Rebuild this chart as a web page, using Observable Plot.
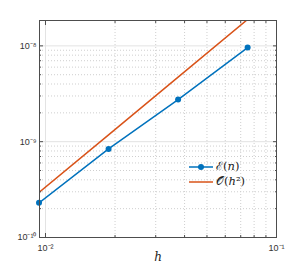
<!DOCTYPE html>
<html><head><meta charset="utf-8">
<script src="https://cdn.jsdelivr.net/npm/d3@7"></script>
<script src="https://cdn.jsdelivr.net/npm/@observablehq/plot@0.6"></script>
<style>
body{margin:0;background:#fff;}
#wrap{position:relative;width:305px;height:267px;}
#legend{position:absolute;left:188px;top:159px;font-family:"DejaVu Serif",serif;font-size:11.5px;color:#222;line-height:15px;}
#legend .row{display:flex;align-items:center;height:15px;}
#legend svg{margin-right:2px;}
</style>
</head><body>
<div id="wrap"><div id="chart"></div>
<div id="legend"></div></div>
<script>
const h = [0.009375, 0.01875, 0.0375, 0.075];
const errE = [2.3e-10, 8.4e-10, 2.75e-9, 9.6e-9];
const errO = [2.95e-10, 1.18e-9, 4.72e-9, 1.89e-8];
const seriesNames = ["ℰ(<i>n</i>)", "𝒪(<i>h</i>²)"];
const seriesColors = ["#0072BD", "#D95319"];
const xDomain = [0.00942, 0.1];
const yDomain = [1e-10, 1.84e-8];
const xMajor = [0.01, 0.1];
const xMinor = [0.02,0.03,0.04,0.05,0.06,0.07,0.08,0.09];
const yMajor = [1e-10, 1e-9, 1e-8];
const yMinor = [2e-10,3e-10,4e-10,5e-10,6e-10,7e-10,8e-10,9e-10,2e-9,3e-9,4e-9,5e-9,6e-9,7e-9,8e-9,9e-9];
const xLabels = ["10⁻²", "10⁻¹"];
const yLabels = ["10⁻¹⁰", "10⁻⁹", "10⁻⁸"];

const dataE = h.map((x,i)=>({x, y: errE[i]}));
const dataO = h.map((x,i)=>({x, y: errO[i]}));
const axisColor = "#4d4d4d";
const fmt = (arr, labels) => v => { const i = arr.findIndex(a => Math.abs(a - v)/a < 1e-6); return i >= 0 ? labels[i] : ""; };
const tk = (axis, ticks, anchor, size) => axis(ticks, {anchor, tickSize: size, text: null, label: null, stroke: axisColor});

const chart = Plot.plot({
  width: 305, height: 267,
  marginLeft: 39, marginRight: 29, marginTop: 20, marginBottom: 30,
  style: {fontFamily: "'Liberation Sans', Arial, sans-serif", fontSize: "9px", color: "#333", background: "#fff"},
  x: {type: "log", domain: xDomain},
  y: {type: "log", domain: yDomain},
  marks: [
    Plot.gridX(xMinor, {stroke: "#cfcfcf", strokeOpacity: 1, strokeDasharray: "1,2"}),
    Plot.gridY(yMinor, {stroke: "#cfcfcf", strokeOpacity: 1, strokeDasharray: "1,2"}),
    Plot.gridX(xMajor.filter(v => v < 0.1), {stroke: "#e3e3e3", strokeOpacity: 1}),
    Plot.gridY(yMajor.filter(v => v > 1e-10), {stroke: "#e3e3e3", strokeOpacity: 1}),
    Plot.line(dataO, {x: "x", y: "y", stroke: seriesColors[1], strokeWidth: 1.5, clip: true}),
    Plot.line(dataE, {x: "x", y: "y", stroke: seriesColors[0], strokeWidth: 1.5, clip: true}),
    Plot.dot(dataE, {x: "x", y: "y", fill: seriesColors[0], r: 3}),
    Plot.frame({stroke: axisColor, strokeWidth: 1}),
    tk(Plot.axisX, xMajor, "bottom", -4),
    tk(Plot.axisX, xMinor, "bottom", -2),
    tk(Plot.axisX, xMajor, "top", -4),
    tk(Plot.axisX, xMinor, "top", -2),
    tk(Plot.axisY, yMajor, "left", -4),
    tk(Plot.axisY, yMinor, "left", -2),
    tk(Plot.axisY, yMajor, "right", -4),
    tk(Plot.axisY, yMinor, "right", -2),
    Plot.axisX(xMajor, {anchor: "bottom", tickSize: 0, tickPadding: 7, tickFormat: fmt(xMajor, xLabels), label: null, fill: "#333"}),
    Plot.axisY(yMajor, {anchor: "left", tickSize: 0, tickPadding: 3, tickFormat: fmt(yMajor, yLabels), label: null, fill: "#333"}),
    Plot.text(["h"], {frameAnchor: "bottom", dy: 23, fontFamily: "'DejaVu Serif', serif", fontStyle: "italic", fontSize: 12, fill: "#222"})
  ]
});
document.getElementById("chart").appendChild(chart);

const legend = document.getElementById("legend");
seriesNames.forEach((name, i) => {
  const row = document.createElement("div");
  row.className = "row";
  const marker = i === 0 ? `<circle cx="13" cy="5" r="3" fill="${seriesColors[i]}"/>` : "";
  row.innerHTML = `<svg width="26" height="10"><line x1="1" x2="25" y1="5" y2="5" stroke="${seriesColors[i]}" stroke-width="1.5"/>${marker}</svg><span>${name}</span>`;
  legend.appendChild(row);
});
</script>
</body></html>
